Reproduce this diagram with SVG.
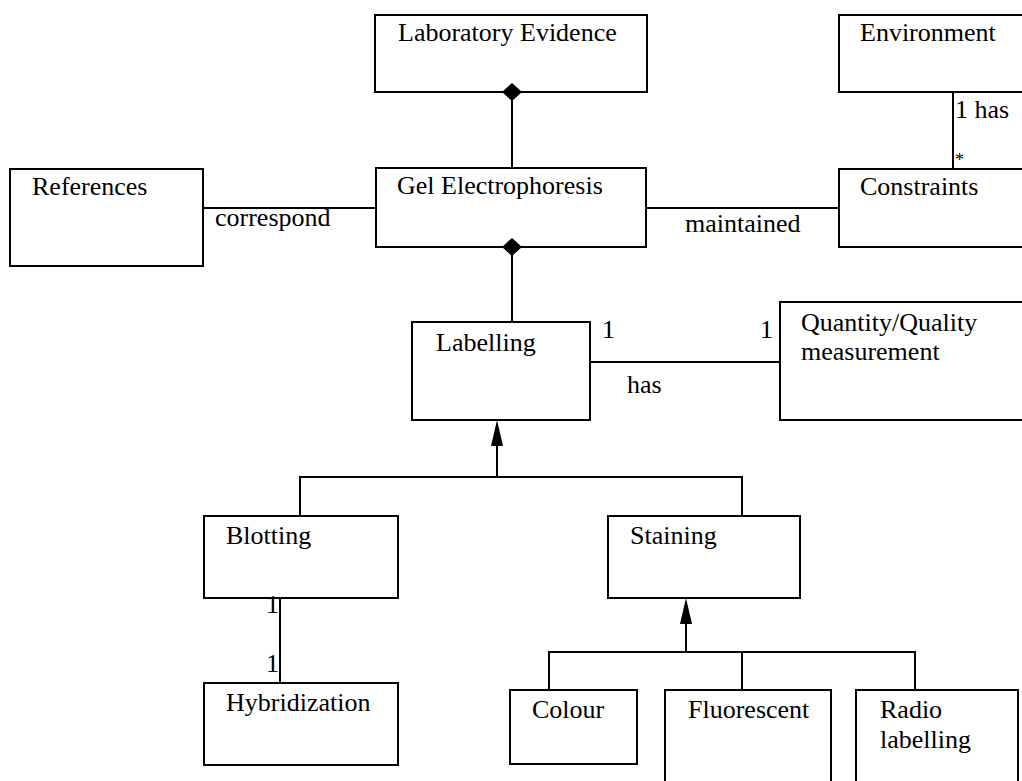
<svg xmlns="http://www.w3.org/2000/svg" width="1022" height="781" viewBox="0 0 1022 781">
<style>
.box{fill:#fff;stroke:#000;stroke-width:2}
.t{font-family:"Liberation Serif","Times New Roman",serif;font-size:26px;fill:#000}
.c{fill:none;stroke:#000;stroke-width:2}
.f{fill:#000;stroke:none}
</style>
<rect width="1022" height="781" fill="#fff"/>
<g id="lab-evidence"><rect class="box" x="375" y="15" width="272" height="77"/><text class="t" x="398" y="41">Laboratory Evidence</text></g>
<g id="environment"><rect class="box" x="839" y="15" width="200" height="77"/><text class="t" x="860" y="41">Environment</text></g>
<g id="references"><rect class="box" x="10" y="169" width="193" height="97"/><text class="t" x="32" y="195">References</text></g>
<g id="gel"><rect class="box" x="376" y="168" width="270" height="79"/><text class="t" x="397" y="194">Gel Electrophoresis</text></g>
<g id="constraints"><rect class="box" x="839" y="169" width="200" height="78"/><text class="t" x="860" y="195">Constraints</text></g>
<g id="labelling"><rect class="box" x="412" y="322" width="178" height="98"/><text class="t" x="436" y="351">Labelling</text></g>
<g id="quantity"><rect class="box" x="780" y="302" width="260" height="118"/><text class="t" x="801" y="331">Quantity/Quality</text><text class="t" x="801" y="360">measurement</text></g>
<g id="blotting"><rect class="box" x="204" y="516" width="194" height="82"/><text class="t" x="226" y="544">Blotting</text></g>
<g id="staining"><rect class="box" x="608" y="516" width="192" height="82"/><text class="t" x="630" y="544">Staining</text></g>
<g id="hybridization"><rect class="box" x="204" y="683" width="194" height="82"/><text class="t" x="226" y="711">Hybridization</text></g>
<g id="colour"><rect class="box" x="510" y="690" width="127" height="74"/><text class="t" x="532" y="718">Colour</text></g>
<g id="fluorescent"><rect class="box" x="665" y="690" width="166" height="100"/><text class="t" x="688" y="718">Fluorescent</text></g>
<g id="radio"><rect class="box" x="856" y="690" width="162" height="100"/><text class="t" x="880" y="718">Radio</text><text class="t" x="880" y="748">labelling</text></g>
<g id="connectors">
  <line class="c" x1="512" y1="92" x2="512" y2="168"/>
  <polygon class="f" points="512,83 522,92 512,101 502,92"/>
  <line class="c" x1="512" y1="247" x2="512" y2="322"/>
  <polygon class="f" points="512,238 522,247 512,256 502,247"/>
  <line class="c" x1="203" y1="208" x2="376" y2="208"/>
  <text class="t" x="215" y="226">correspond</text>
  <line class="c" x1="646" y1="208" x2="839" y2="208"/>
  <text class="t" x="685" y="232">maintained</text>
  <line class="c" x1="953" y1="92" x2="953" y2="169"/>
  <text class="t" x="955" y="118">1 has</text>
  <text class="t" x="955" y="166" style="font-size:18px">*</text>
  <line class="c" x1="590" y1="362" x2="780" y2="362"/>
  <text class="t" x="602" y="338">1</text>
  <text class="t" x="760" y="338">1</text>
  <text class="t" x="627" y="393">has</text>
  <polyline class="c" points="300,516 300,477 742,477 742,516"/>
  <line class="c" x1="497" y1="477" x2="497" y2="440"/>
  <polygon class="f" points="497,420 503,446 491,446"/>
  <line class="c" x1="280" y1="598" x2="280" y2="683"/>
  <text class="t" x="266" y="613">1</text>
  <text class="t" x="266" y="672">1</text>
  <polyline class="c" points="549,690 549,652 915,652 915,690"/>
  <line class="c" x1="742" y1="652" x2="742" y2="690"/>
  <line class="c" x1="686" y1="652" x2="686" y2="618"/>
  <polygon class="f" points="686,598 692,624 680,624"/>
</g>
</svg>
